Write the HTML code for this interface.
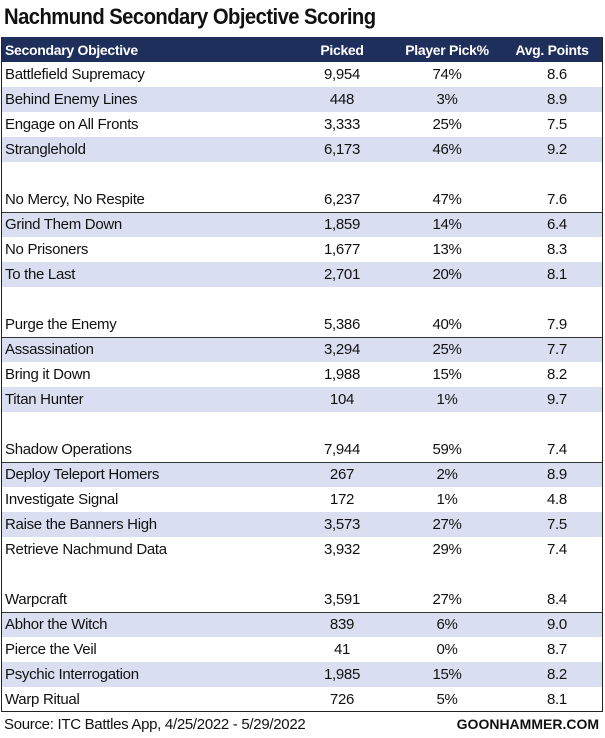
<!DOCTYPE html>
<html><head><meta charset="utf-8"><style>
body{margin:0;background:#fff;width:605px;height:738px;position:relative;font-family:"Liberation Sans",sans-serif;overflow:hidden}
.title{position:absolute;left:4px;top:4px;font-size:22px;font-weight:bold;color:#111;letter-spacing:-0.6px;transform:scaleX(0.92);transform-origin:left;white-space:nowrap}
.tbl{position:absolute;left:1px;top:37px;width:600px;height:674px;border:1px solid #222;border-top:none}
.hdr{position:absolute;left:0;top:0;width:600px;height:25px;background:#1f2f5c;color:#fff;font-weight:bold;font-size:14px}
.row{position:absolute;left:0;width:600px;height:25px;font-size:15px;color:#111;letter-spacing:-0.3px}
.s{background:#d9dff1}
.ln{box-shadow:inset 0 1px 0 #333}
.c{position:absolute;top:4px;white-space:nowrap}
.n{left:3px}
.p{left:290px;width:100px;text-align:center}
.q{left:385px;width:120px;text-align:center}
.a{left:500px;width:110px;text-align:center}
.hdr .c{top:5px;letter-spacing:-0.3px}
.foot{position:absolute;top:716px;font-size:15px;color:#111;letter-spacing:-0.3px;white-space:nowrap}
</style></head><body>
<div class="title">Nachmund Secondary Objective Scoring</div>
<div class="tbl">
<div class="hdr"><span class="c n">Secondary Objective</span><span class="c p">Picked</span><span class="c q">Player Pick%</span><span class="c a" style="left:495px">Avg. Points</span></div>
<div class="row" style="top:25px"><span class="c n">Battlefield Supremacy</span><span class="c p">9,954</span><span class="c q">74%</span><span class="c a">8.6</span></div>
<div class="row s" style="top:50px"><span class="c n">Behind Enemy Lines</span><span class="c p">448</span><span class="c q">3%</span><span class="c a">8.9</span></div>
<div class="row" style="top:75px"><span class="c n">Engage on All Fronts</span><span class="c p">3,333</span><span class="c q">25%</span><span class="c a">7.5</span></div>
<div class="row s" style="top:100px"><span class="c n">Stranglehold</span><span class="c p">6,173</span><span class="c q">46%</span><span class="c a">9.2</span></div>
<div class="row" style="top:150px"><span class="c n">No Mercy, No Respite</span><span class="c p">6,237</span><span class="c q">47%</span><span class="c a">7.6</span></div>
<div class="row s ln" style="top:175px"><span class="c n">Grind Them Down</span><span class="c p">1,859</span><span class="c q">14%</span><span class="c a">6.4</span></div>
<div class="row" style="top:200px"><span class="c n">No Prisoners</span><span class="c p">1,677</span><span class="c q">13%</span><span class="c a">8.3</span></div>
<div class="row s" style="top:225px"><span class="c n">To the Last</span><span class="c p">2,701</span><span class="c q">20%</span><span class="c a">8.1</span></div>
<div class="row" style="top:275px"><span class="c n">Purge the Enemy</span><span class="c p">5,386</span><span class="c q">40%</span><span class="c a">7.9</span></div>
<div class="row s ln" style="top:300px"><span class="c n">Assassination</span><span class="c p">3,294</span><span class="c q">25%</span><span class="c a">7.7</span></div>
<div class="row" style="top:325px"><span class="c n">Bring it Down</span><span class="c p">1,988</span><span class="c q">15%</span><span class="c a">8.2</span></div>
<div class="row s" style="top:350px"><span class="c n">Titan Hunter</span><span class="c p">104</span><span class="c q">1%</span><span class="c a">9.7</span></div>
<div class="row" style="top:400px"><span class="c n">Shadow Operations</span><span class="c p">7,944</span><span class="c q">59%</span><span class="c a">7.4</span></div>
<div class="row s ln" style="top:425px"><span class="c n">Deploy Teleport Homers</span><span class="c p">267</span><span class="c q">2%</span><span class="c a">8.9</span></div>
<div class="row" style="top:450px"><span class="c n">Investigate Signal</span><span class="c p">172</span><span class="c q">1%</span><span class="c a">4.8</span></div>
<div class="row s" style="top:475px"><span class="c n">Raise the Banners High</span><span class="c p">3,573</span><span class="c q">27%</span><span class="c a">7.5</span></div>
<div class="row" style="top:500px"><span class="c n">Retrieve Nachmund Data</span><span class="c p">3,932</span><span class="c q">29%</span><span class="c a">7.4</span></div>
<div class="row" style="top:550px"><span class="c n">Warpcraft</span><span class="c p">3,591</span><span class="c q">27%</span><span class="c a">8.4</span></div>
<div class="row s ln" style="top:575px"><span class="c n">Abhor the Witch</span><span class="c p">839</span><span class="c q">6%</span><span class="c a">9.0</span></div>
<div class="row" style="top:600px"><span class="c n">Pierce the Veil</span><span class="c p">41</span><span class="c q">0%</span><span class="c a">8.7</span></div>
<div class="row s" style="top:625px"><span class="c n">Psychic Interrogation</span><span class="c p">1,985</span><span class="c q">15%</span><span class="c a">8.2</span></div>
<div class="row" style="top:650px"><span class="c n">Warp Ritual</span><span class="c p">726</span><span class="c q">5%</span><span class="c a">8.1</span></div>
</div>
<div class="foot" style="left:4px">Source: ITC Battles App, 4/25/2022 - 5/29/2022</div>
<div class="foot" style="right:6px;font-weight:bold;font-size:14px;letter-spacing:0">GOONHAMMER.COM</div>
</body></html>
